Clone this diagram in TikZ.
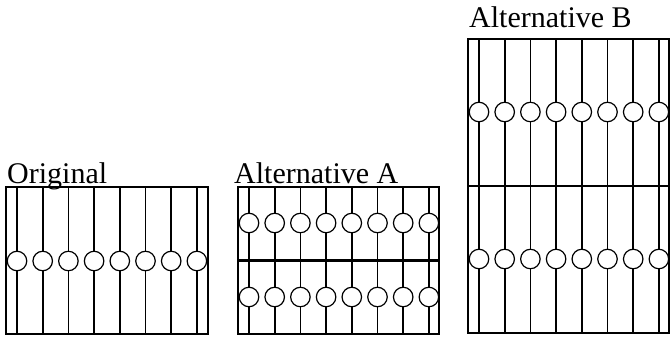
\documentclass[tikz,border=0pt]{standalone}
\usepackage{fontspec}
\setmainfont{Liberation Serif}
\tikzset{
  frame/.style={draw, line width=1.6pt},
  rod/.style={draw, line width=1.6pt},
  divider/.style={draw, line width=2.2pt},
  bead/.style={
    circle, draw, fill=white, line width=1.2pt,
    minimum size=19.5pt, inner sep=0pt
  },
  caption/.style={
    anchor=base west, inner sep=0pt,
    font=\fontsize{30}{36}\selectfont
  }
}

\begin{document}
\begin{tikzpicture}[x=1pt, y=-1pt]
  \useasboundingbox (0,0) rectangle (672,338);
  % Original: one row of beads
  \node[caption] (lblorig) at (7,183) {Original};
  \draw[frame] (6,187) rectangle (208,334);
  \foreach \i in {0,...,7} {
    \draw[rod] (17+25.7*\i,187) -- (17+25.7*\i,334);
    \node[bead] (orig\i) at (17+25.7*\i,261) {};
  }
  % Alternative A: two rows, same height
  \node[caption] (lbla) at (234,183) {Alternative A};
  \draw[frame] (238,187) rectangle (439,334);
  \draw[divider] (238,260.5) -- (439,260.5);
  \foreach \i in {0,...,7} {
    \draw[rod] (249+25.7*\i,187) -- (249+25.7*\i,334);
    \node[bead] (alta\i) at (249+25.7*\i,223) {};
    \node[bead] (altaa\i) at (249+25.7*\i,297) {};
  }
  % Alternative B: two rows, double height
  \node[caption] (lblb) at (469,27) {Alternative B};
  \draw[frame] (468,39) rectangle (669,333);
  \draw[divider] (468,186) -- (669,186);
  \foreach \i in {0,...,7} {
    \draw[rod] (479+25.7*\i,39) -- (479+25.7*\i,333);
    \node[bead] (altb\i) at (479+25.7*\i,112) {};
    \node[bead] (altbb\i) at (479+25.7*\i,259) {};
  }
\end{tikzpicture}
\end{document}
